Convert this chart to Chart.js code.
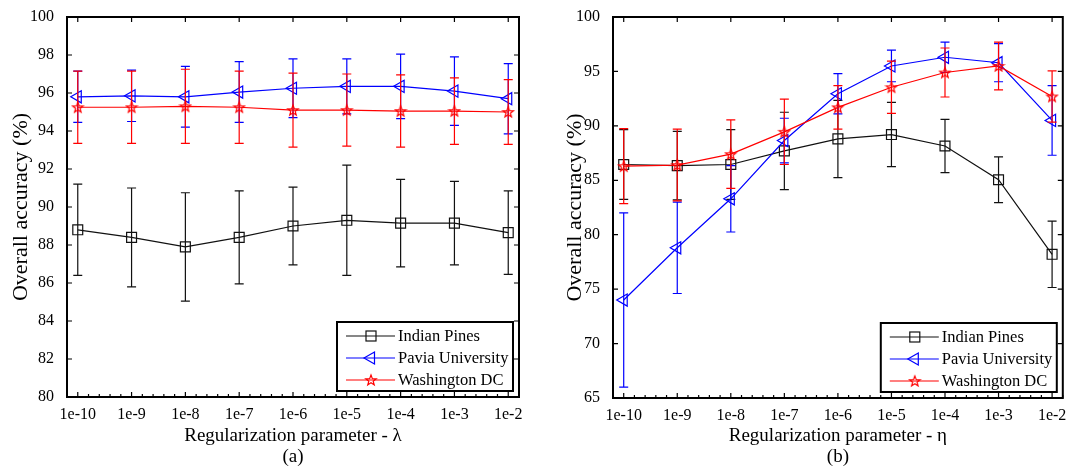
<!DOCTYPE html>
<html>
<head>
<meta charset="utf-8">
<script src="https://cdn.jsdelivr.net/npm/chart.js"></script>
<style>
  body { margin: 0; background: #fff; }
  .panel { position: absolute; top: 0; }
</style>
</head>
<body>
<div class="panel" style="left:0px"><canvas id="chartA" width="535" height="467"></canvas></div>
<div class="panel" style="left:535px"><canvas id="chartB" width="536" height="467"></canvas></div>
<script>
// x categories (same for both panels)
var xLabels = ['1e-10', '1e-9', '1e-8', '1e-7', '1e-6', '1e-5', '1e-4', '1e-3', '1e-2'];
var seriesNames = ['Indian Pines', 'Pavia University', 'Washington DC'];

// (a) lambda
var indianA    = [88.8, 88.4, 87.9, 88.4, 89.0, 89.3, 89.15, 89.15, 88.65];
var indianAErr = [2.4, 2.6, 2.85, 2.45, 2.05, 2.9, 2.3, 2.2, 2.2];
var paviaA     = [95.8, 95.85, 95.8, 96.05, 96.25, 96.35, 96.35, 96.1, 95.7];
var paviaAErr  = [1.35, 1.35, 1.6, 1.6, 1.55, 1.45, 1.7, 1.8, 1.85];
var washA      = [95.25, 95.25, 95.3, 95.25, 95.1, 95.1, 95.05, 95.05, 95.0];
var washAErr   = [1.9, 1.9, 1.95, 1.9, 1.95, 1.9, 1.9, 1.75, 1.7];

// (b) eta
var indianB    = [86.45, 86.35, 86.45, 87.7, 88.8, 89.2, 88.15, 85.05, 78.2];
var indianBErr = [3.2, 3.15, 3.2, 3.55, 3.55, 2.95, 2.45, 2.1, 3.05];
var paviaB     = [74.0, 78.8, 83.3, 88.65, 92.95, 95.5, 96.3, 95.8, 90.5];
var paviaBErr  = [8.0, 4.2, 3.05, 2.05, 1.85, 1.45, 1.4, 1.75, 3.2];
var washB      = [86.3, 86.4, 87.4, 89.45, 91.7, 93.55, 94.9, 95.5, 92.7];
var washBErr   = [3.45, 3.3, 3.15, 3.0, 2.0, 2.4, 2.25, 2.2, 2.35];

var FONT = "'Liberation Serif', 'Times New Roman', serif";
var BLACK = '#111', BLUE = 'rgb(0,0,255)', RED = 'rgb(255,0,0)';

// pentagram marker for Washington DC
function makeStar(color) {
  var c = document.createElement('canvas');
  c.width = 14; c.height = 14;
  var g = c.getContext('2d');
  g.strokeStyle = color;
  g.lineWidth = 1.2;
  g.beginPath();
  for (var k = 0; k < 10; k++) {
    var r = (k % 2) ? 2.3 : 5.5;
    var a = -Math.PI / 2 + k * Math.PI / 5;
    var px = 7 + r * Math.cos(a), py = 7.5 + r * Math.sin(a);
    if (k == 0) g.moveTo(px, py); else g.lineTo(px, py);
  }
  g.closePath();
  g.stroke();
  return c;
}
var starImg = makeStar(RED);

function toPts(arr) {
  return arr.map(function (v, i) { return {x: i, y: v}; });
}

function makeSet(label, vals, errs, color, style, order) {
  return {
    label: label,
    data: toPts(vals),
    err: errs,
    borderColor: color,
    borderWidth: 1.2,
    pointStyle: style,
    pointRotation: style == 'triangle' ? -90 : 0,
    pointRadius: 7,
    pointBorderColor: color,
    pointBackgroundColor: 'rgba(0,0,0,0)',
    pointBorderWidth: 1.2,
    tension: 0,
    order: order
  };
}

// error bars, drawn just under each series
var errorBars = {
  id: 'errorBars',
  beforeDatasetDraw: function (chart, args) {
    var ds = chart.data.datasets[args.index];
    var ys = chart.scales.y;
    var ctx = chart.ctx;
    ctx.save();
    ctx.strokeStyle = ds.borderColor;
    ctx.lineWidth = 1.2;
    args.meta.data.forEach(function (pt, i) {
      var v = ds.data[i].y, e = ds.err[i];
      var top = ys.getPixelForValue(v + e), bot = ys.getPixelForValue(v - e);
      ctx.beginPath();
      ctx.moveTo(pt.x, top); ctx.lineTo(pt.x, bot);
      ctx.moveTo(pt.x - 4.5, top); ctx.lineTo(pt.x + 4.5, top);
      ctx.moveTo(pt.x - 4.5, bot); ctx.lineTo(pt.x + 4.5, bot);
      ctx.stroke();
    });
    ctx.restore();
  }
};

// axes box with inward ticks
var frame = {
  id: 'frame',
  afterDatasetsDraw: function (chart) {
    var ctx = chart.ctx, a = chart.chartArea;
    var xs = chart.scales.x, ys = chart.scales.y;
    ctx.save();
    ctx.strokeStyle = '#000';
    ctx.lineWidth = 1.2;
    ctx.beginPath();
    xs.ticks.forEach(function (t) {
      var x = xs.getPixelForValue(t.value);
      ctx.moveTo(x, a.bottom); ctx.lineTo(x, a.bottom - 5);
      ctx.moveTo(x, a.top); ctx.lineTo(x, a.top + 5);
    });
    for (var m = Math.round(xs.min * 5); m <= Math.round(xs.max * 5); m++) {
      if (m % 5 == 0) continue;
      var mx = xs.getPixelForValue(m / 5);
      ctx.moveTo(mx, a.bottom); ctx.lineTo(mx, a.bottom - 3);
    }
    ys.ticks.forEach(function (t) {
      var y = ys.getPixelForValue(t.value);
      ctx.moveTo(a.left, y); ctx.lineTo(a.left + 5, y);
      ctx.moveTo(a.right, y); ctx.lineTo(a.right - 5, y);
    });
    ctx.stroke();
    ctx.lineWidth = 2;
    ctx.strokeRect(a.left, a.top, a.right - a.left, a.bottom - a.top);
    ctx.restore();
  }
};

function drawMarker(ctx, ds, x, y) {
  ctx.strokeStyle = ds.borderColor;
  ctx.lineWidth = 1.2;
  if (ds.pointStyle == 'rect') {
    ctx.strokeRect(x - 5, y - 5, 10, 10);
  } else if (ds.pointStyle == 'triangle') {
    ctx.beginPath();
    ctx.moveTo(x - 7, y);
    ctx.lineTo(x + 3.5, y - 6);
    ctx.lineTo(x + 3.5, y + 6);
    ctx.closePath();
    ctx.stroke();
  } else {
    ctx.drawImage(ds.pointStyle, x - 7, y - 7);
  }
}

// legend box inside lower right of the plot
var boxLegend = {
  id: 'boxLegend',
  afterDraw: function (chart) {
    var ctx = chart.ctx, a = chart.chartArea;
    var w = 176, h = 69;
    var left = a.right - 6 - w, top = a.bottom - 6 - h;
    ctx.save();
    ctx.fillStyle = '#fff';
    ctx.fillRect(left, top, w, h);
    ctx.strokeStyle = '#000';
    ctx.lineWidth = 2;
    ctx.strokeRect(left, top, w, h);
    chart.data.datasets.forEach(function (ds, i) {
      var y = top + 14 + i * 22;
      ctx.strokeStyle = ds.borderColor;
      ctx.lineWidth = 1.2;
      ctx.beginPath();
      ctx.moveTo(left + 9, y); ctx.lineTo(left + 58, y);
      ctx.stroke();
      drawMarker(ctx, ds, left + 34, y);
      ctx.fillStyle = '#000';
      ctx.font = '16.5px ' + FONT;
      ctx.textBaseline = 'middle';
      ctx.fillText(ds.label, left + 61, y + 1);
    });
    ctx.restore();
  }
};

function makeChart(id, sets, yMin, yMax, yStep, xTitle, sub, yTitlePad, rightPad, yWidth, xHeight) {
  return new Chart(document.getElementById(id), {
    type: 'line',
    data: { datasets: sets },
    options: {
      responsive: false,
      animation: false,
      layout: { padding: { top: 17, right: rightPad, left: 0, bottom: 0 } },
      plugins: { legend: { display: false }, tooltip: { enabled: false } },
      scales: {
        x: {
          type: 'linear', min: -0.2, max: 8.2,
          grid: { display: false }, border: { display: false },
          afterBuildTicks: function (s) {
            s.ticks = xLabels.map(function (l, i) { return { value: i }; });
          },
          ticks: {
            callback: function (v) { return xLabels[v]; },
            font: { family: FONT, size: 16 }, color: '#000',
            padding: 0, maxRotation: 0, autoSkip: false
          },
          title: {
            display: true, text: [xTitle, sub],
            font: { family: FONT, size: 19, lineHeight: 1.1 }, color: '#000',
            padding: { top: 0, bottom: 0 }
          },
          afterFit: function (s) { s.height = xHeight; }
        },
        y: {
          min: yMin, max: yMax,
          grid: { display: false }, border: { display: false },
          ticks: { stepSize: yStep, font: { family: FONT, size: 16 }, color: '#000', padding: 5 },
          title: {
            display: true, text: 'Overall accuracy (%)',
            font: { family: FONT, size: 22 }, color: '#000',
            padding: { top: yTitlePad, bottom: 0 }
          },
          afterFit: function (s) { s.width = yWidth; }
        }
      }
    },
    plugins: [errorBars, frame, boxLegend]
  });
}

makeChart('chartA', [
  makeSet(seriesNames[0], indianA, indianAErr, BLACK, 'rect', 3),
  makeSet(seriesNames[1], paviaA, paviaAErr, BLUE, 'triangle', 2),
  makeSet(seriesNames[2], washA, washAErr, RED, starImg, 1)
], 80, 100, 2, 'Regularization parameter - \u03bb', '(a)', 7.8, 16, 67, 70);

makeChart('chartB', [
  makeSet(seriesNames[0], indianB, indianBErr, BLACK, 'rect', 3),
  makeSet(seriesNames[1], paviaB, paviaBErr, BLUE, 'triangle', 2),
  makeSet(seriesNames[2], washB, washBErr, RED, starImg, 1)
], 65, 100, 5, 'Regularization parameter - \u03b7', '(b)', 26.8, 4, 78, 69);
</script>
</body>
</html>
